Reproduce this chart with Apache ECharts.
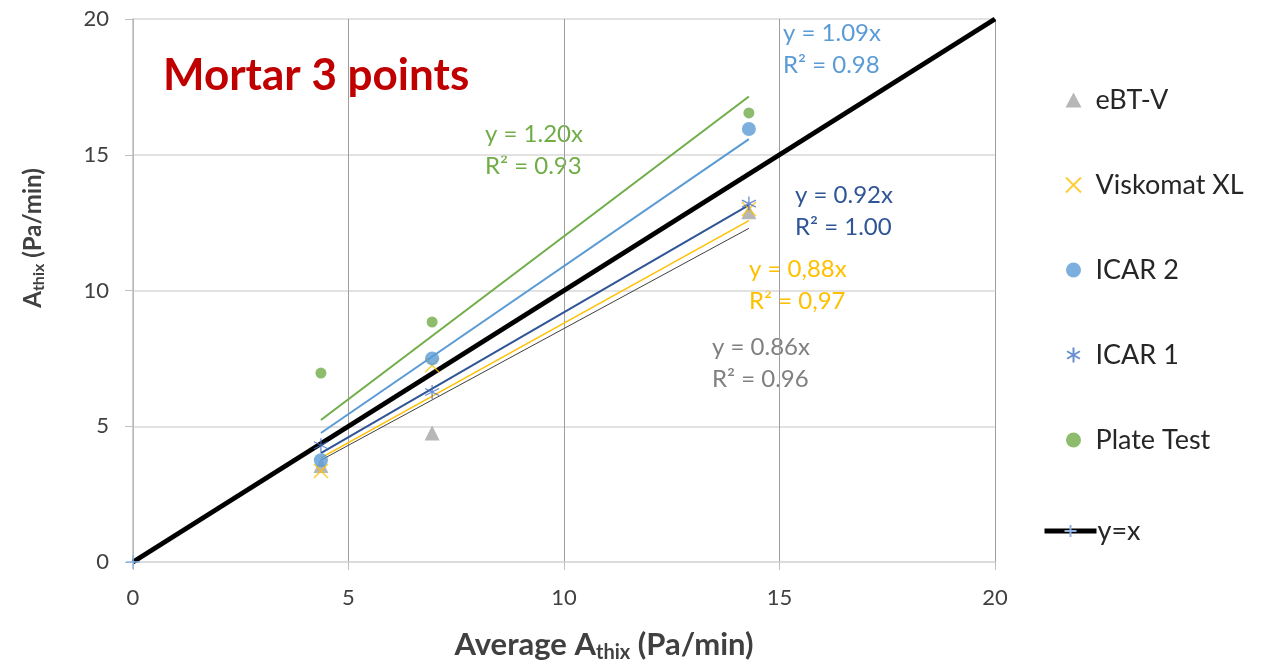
<!DOCTYPE html>
<html>
<head>
<meta charset="utf-8">
<script src="https://cdn.jsdelivr.net/npm/echarts@6/dist/echarts.min.js"></script>
<style>
  html, body { margin: 0; padding: 0; background: #ffffff; }
  #chart { width: 1262px; height: 664px; }
</style>
</head>
<body>
<div id="chart"></div>
<script>
// Average thixotropy per mix (x) and the value measured by each device (y)
const avgAthix = [4.36, 6.94, 14.29];
const ebtV = [3.55, 4.75, 12.9];
const viskomatXL = [3.35, 7.25, 13.0];
const icar2 = [3.75, 7.5, 15.95];
const icar1 = [4.3, 6.26, 13.2];
const plateTest = [6.96, 8.84, 16.54];
const identityX = [0, 20];

// Linear fits through the origin, as stated by the equation labels
const fitSlopes = { ebtV: 0.86, viskomat: 0.88, icar2: 1.09, icar1: 0.92, plate: 1.20 };
const fitLabels = {
  ebtV: ['y = 0.86x', 'R² = 0.96'],
  viskomat: ['y = 0,88x', 'R² = 0,97'],
  icar2: ['y = 1.09x', 'R² = 0.98'],
  icar1: ['y = 0.92x', 'R² = 1.00'],
  plate: ['y = 1.20x', 'R² = 0.93']
};
const axisTicks = [0, 5, 10, 15, 20];
const deviceNames = ['eBT-V', 'Viskomat XL', 'ICAR 2', 'ICAR 1', 'Plate Test'];

const FONT = 'Lato';
const C = {
  ebtV: '#A5A5A5', ebtVFit: '#3F3F3F',
  visk: '#FFC000',
  icar2: '#5B9BD5',
  icar1: '#4472C4', icar1Fit: '#2F5597',
  plate: '#70AD47',
  title: '#C00000',
  text: '#404040'
};

const pairs = (xs, ys) => xs.map((x, i) => [x, ys[i]]);
const fitLine = (xs, k) => {
  const lo = Math.min(...xs), hi = Math.max(...xs);
  return [[lo, k * lo], [hi, k * hi]];
};

const crossSym = 'path://M0,0L10,10M10,0L0,10';
const starSym = 'path://M5,0L5,10M0.7,2.5L9.3,7.5M0.7,7.5L9.3,2.5';
const plusSym = 'path://M5,0L5,10M0,5L10,5';

function trend(name, k, color, width) {
  return {
    name: name, type: 'line', data: fitLine(avgAthix, k),
    symbol: 'none', silent: true, z: 3,
    lineStyle: { color: color, width: width }
  };
}

function scatter(name, ys, symbol, size, style) {
  return {
    name: name, type: 'scatter', data: pairs(avgAthix, ys),
    symbol: symbol, symbolSize: size, z: 4,
    itemStyle: style
  };
}

function fitText(x, y, lines, color) {
  return {
    type: 'text', left: x, top: y,
    style: { text: lines.join('\n'), fill: color, font: '24px ' + FONT, lineHeight: 32 }
  };
}

// Axis titles with the "thix" subscript
const titleRich = (big, small) => ({
  b: { fontFamily: FONT, fontSize: big, fontWeight: 'bold', fill: C.text, color: C.text },
  s: { fontFamily: FONT, fontSize: small, fontWeight: 'bold', fill: C.text, color: C.text, padding: [Math.round(big * 0.5), 0, 0, 0] }
});

const legendText = { fontFamily: FONT, fontSize: 27, color: '#262626', lineHeight: 30 };

// y = x reference line: plus marker only at the origin
const identityData = pairs(identityX, identityX).map((p, i) => i === 0 ? p : { value: p, symbol: 'none' });

const chart = echarts.init(document.getElementById('chart'), null, { renderer: 'canvas' });

const option = {
  backgroundColor: '#ffffff',
  animation: false,
  textStyle: { fontFamily: FONT },
  grid: { left: 133, right: 267, top: 19, bottom: 102, containLabel: false },
  xAxis: {
    type: 'value', min: 0, max: 20, interval: 5,
    axisLine: { show: true, lineStyle: { color: '#D9D9D9', width: 1.5 } },
    axisTick: { show: true, length: 8, lineStyle: { color: '#BFBFBF' } },
    axisLabel: { fontSize: 22, color: C.text, margin: 25, fontFamily: FONT,
      formatter: v => axisTicks.includes(v) ? String(v) : '' },
    splitLine: { show: true, lineStyle: { color: '#9E9E9E', width: 1 } }
  },
  yAxis: {
    type: 'value', min: 0, max: 20, interval: 5,
    axisLine: { show: true, lineStyle: { color: '#BFBFBF', width: 1.5 } },
    axisTick: { show: true, length: 8, lineStyle: { color: '#BFBFBF' } },
    axisLabel: { fontSize: 22, color: C.text, margin: 24, fontFamily: FONT,
      formatter: v => axisTicks.includes(v) ? String(v) : '' },
    splitLine: { show: true, lineStyle: { color: '#D9D9D9', width: 1.5 } }
  },
  legend: [
    {
      orient: 'vertical', left: 1060, top: 80,
      itemGap: 55, itemWidth: 16, itemHeight: 15,
      textStyle: Object.assign({ padding: [0, 0, 0, 9] }, legendText),
      data: deviceNames
    },
    {
      orient: 'vertical', left: 1037, top: 511,
      itemWidth: 52, itemHeight: 15,
      textStyle: Object.assign({ padding: [0, 0, 0, -4] }, legendText),
      data: [{ name: 'y=x', lineStyle: { width: 5, color: '#000000' } }]
    }
  ],
  graphic: [
    { type: 'text', left: 163, top: 54,
      style: { text: 'Mortar 3 points', fill: C.title, font: 'bold 44px ' + FONT } },
    fitText(783, 17, fitLabels.icar2, C.icar2),
    fitText(485, 118, fitLabels.plate, C.plate),
    fitText(795, 179, fitLabels.icar1, C.icar1Fit),
    fitText(749, 253, fitLabels.viskomat, C.visk),
    fitText(712, 331, fitLabels.ebtV, '#808080'),
    {
      type: 'text', x: 604, y: 645,
      style: { text: '{b|Average A}{s|thix}{b| (Pa/min)}', rich: titleRich(31, 20),
        align: 'center', verticalAlign: 'middle' }
    },
    {
      type: 'text', x: 33, y: 238, rotation: Math.PI / 2,
      style: { text: '{b|A}{s|thix}{b| (Pa/min)}', rich: titleRich(24, 16),
        align: 'center', verticalAlign: 'middle' }
    }
  ],
  series: [
    {
      name: 'y=x', type: 'line', data: identityData,
      symbol: plusSym, symbolSize: 14, z: 2, clip: false,
      lineStyle: { color: '#000000', width: 5 },
      itemStyle: { color: 'transparent', borderColor: '#8FB4E3', borderWidth: 1.5 }
    },
    trend('fit eBT-V', fitSlopes.ebtV, C.ebtVFit, 1),
    trend('fit Viskomat XL', fitSlopes.viskomat, C.visk, 1.5),
    trend('fit ICAR 1', fitSlopes.icar1, C.icar1Fit, 2),
    trend('fit ICAR 2', fitSlopes.icar2, C.icar2, 2),
    trend('fit Plate Test', fitSlopes.plate, C.plate, 2),
    scatter('eBT-V', ebtV, 'triangle', 15, { color: C.ebtV }),
    scatter('Viskomat XL', viskomatXL, crossSym, 14, { color: 'transparent', borderColor: C.visk, borderWidth: 1.5 }),
    scatter('ICAR 2', icar2, 'circle', 14, { color: C.icar2 }),
    scatter('ICAR 1', icar1, starSym, 14, { color: 'transparent', borderColor: C.icar1, borderWidth: 1.3 }),
    scatter('Plate Test', plateTest, 'circle', 11, { color: C.plate })
  ]
};

chart.setOption(option);
</script>
</body>
</html>
